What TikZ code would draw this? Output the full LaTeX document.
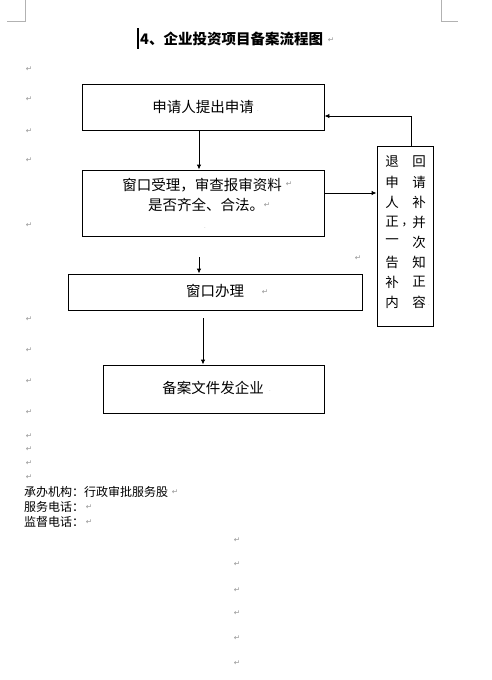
\documentclass[tikz,border=0pt]{standalone}
\usepackage{fontspec}
\newfontfamily\cjk{Noto Sans CJK SC}
\newfontfamily\dejavu{DejaVu Sans}
\usetikzlibrary{arrows.meta}
\begin{document}
\begin{tikzpicture}[x=1pt,y=-1pt,
  box/.style={draw=black,line width=0.9pt,inner sep=0pt},
  arr/.style={line width=0.9pt,-{Latex[length=5pt,width=4.5pt]}},
  txt/.style={font=\cjk\fontsize{14.5}{17}\selectfont,inner sep=0pt},
  sidetxt/.style={font=\cjk\fontsize{13.5}{15}\selectfont,inner sep=0pt},
  foot/.style={font=\cjk\fontsize{12}{14}\selectfont,inner sep=0pt,anchor=west},
  mk/.style={text=gray!85,font=\dejavu\fontsize{7.5}{8}\selectfont,inner sep=0pt},
  dotmk/.style={text=gray!70,font=\fontsize{7}{8}\selectfont,inner sep=0pt},
  crop/.style={draw=gray!60,line width=0.6pt}]
\useasboundingbox (0,0) rectangle (492,680);
\fill[white] (0,0) rectangle (492,680);
% crop marks
\draw[crop] (25,0) -- (25,21) -- (7,21);
\draw[crop] (441,0) -- (441,21) -- (458,21);
% title
\draw[line width=1.8pt] (138,28) -- (138,49);
\node[font=\cjk\bfseries\fontsize{14.5}{16}\selectfont,anchor=west,inner sep=0pt] (title) at (140,39) {4、企业投资项目备案流程图};
\node[mk] (mt) at (331,40) {↵};
% boxes
\node[box,minimum width=242pt,minimum height=46pt] (b1) at (203,107) {};
\node[box,minimum width=242pt,minimum height=66pt] (b2) at (203,203) {};
\node[box,minimum width=56pt,minimum height=180pt] (side) at (405,236) {};
\node[box,minimum width=294pt,minimum height=36pt] (b3) at (215,292) {};
\node[box,minimum width=221pt,minimum height=48pt] (b4) at (213.5,389) {};
% box texts
\node[txt] (t1) at (203,107) {申请人提出申请};
\node[dotmk] (d1) at (258,111) {.};
\node[txt] (t2a) at (202,185) {窗口受理，审查报审资料};
\node[mk] (m2a) at (289,184) {↵};
\node[txt] (t2b) at (206,205) {是否齐全、合法。};
\node[mk] (m2b) at (267,205) {↵};
\node[dotmk] (d2) at (205,228) {.};
\node[txt] (t3) at (215,291) {窗口办理};
\node[mk] (m3) at (265,292) {↵};
\node[txt] (t4) at (213,388) {备案文件发企业};
\node[dotmk] (d4) at (270,391) {.};
% side text
\foreach \a/\b [count=\i] in {退/回,申/请,人/补,正/并,一/次,告/知,补/正,内/容}{
  \node[sidetxt] (sl\i) at (392,142+20*\i) {\a};
  \node[sidetxt] (sr\i) at (419,142+20*\i) {\b};
}
\node[font=\cjk\fontsize{13}{14}\selectfont,inner sep=0pt] (comma) at (404.5,225) {,};
\node[dotmk] (ds) at (429,305) {.};
% connectors
\coordinate (x199) at (199,0);
\coordinate (x203) at (203,0);
\coordinate (y193) at (0,193);
\coordinate (y116) at (0,116);
\coordinate (x411) at (411,0);
\coordinate (a2s) at (199,257);
\coordinate (a3s) at (203,318);
\draw[arr] (b1.south -| x199) -- (b2.north -| x199);
\draw[arr] (b2.east |- y193) -- (side.west |- y193);
\draw[arr] (side.north -| x411) |- (b1.east |- y116);
\draw[arr] (a2s) -- (a2s |- b3.north);
\draw[arr] (a3s) -- (a3s |- b4.north);
% paragraph marks
\foreach \y [count=\i] in {69,99,131,160,225,319,350,381,412,436,449,463,477}{
  \node[mk] (lm\i) at (29,\y) {↵};
}
\node[mk] (mr) at (358,258) {↵};
\foreach \y [count=\i] in {540,564,590,613,638,663}{
  \node[mk] (cm\i) at (237,\y) {↵};
}
% footer
\node[foot] (f1) at (24,492) {承办机构：行政审批服务股};
\node[mk] (fm1) at (175,492) {↵};
\node[foot] (f2) at (24,507) {服务电话：};
\node[mk] (fm2) at (89,507) {↵};
\node[foot] (f3) at (24,522) {监督电话：};
\node[mk] (fm3) at (89,522) {↵};
\end{tikzpicture}
\end{document}
